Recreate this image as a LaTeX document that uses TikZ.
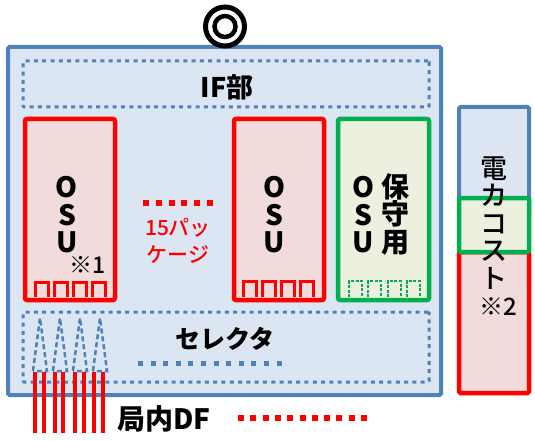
\documentclass[tikz,border=0pt]{standalone}
\usepackage{fontspec}
\setmainfont{Noto Sans CJK JP}
\newfontfamily\heavyjp{Noto Sans CJK JP Medium}
\definecolor{frameblue}{HTML}{4F81BD}
\definecolor{paleblue}{HTML}{DCE6F2}
\definecolor{palered}{HTML}{F2DCDB}
\definecolor{unitgreen}{HTML}{00B050}
\definecolor{palegreen}{HTML}{EBF1DE}
\begin{document}
\begin{tikzpicture}[x=1pt,y=-1pt,
    panel/.style={draw=frameblue, fill=paleblue, line width=4pt, rounded corners=1.5pt},
    section/.style={draw=frameblue, line width=3pt, dash pattern=on 4pt off 4.3pt, rounded corners=1pt},
    osubox/.style={draw=red, fill=palered, line width=4.5pt, rounded corners=2pt, minimum width=90pt, minimum height=181pt},
    sparebox/.style={osubox, draw=unitgreen, fill=palegreen, minimum width=91pt},
    tall/.style={align=center, font=\fontsize{28}{27.5}\selectfont\bfseries},
    label/.style={font=\fontsize{27}{30}\selectfont\bfseries},
    combline/.style={line width=3pt, line join=miter}]
\useasboundingbox (0,0) rectangle (535,441);
\node[panel, minimum width=433pt, minimum height=348pt] (shelf) at (224.5,221) {};
\node[section, minimum width=406pt, minimum height=46pt] (ifsec) at (226,84) {};
\node[label] (iflabel) at (227,87) {IF部};
\node[section, minimum width=406pt, minimum height=70pt] (selsec) at (226,347) {};
\node[label, font=\fontsize{25}{30}\selectfont\bfseries] (sellabel) at (225,339) {セレクタ};
\draw[frameblue, line width=5pt, dash pattern=on 5pt off 7.6pt] (138,363) -- (285,363);
% OSUパッケージ
\node[osubox] (osuA) at (70,209.5) {};
\node[osubox] (osuB) at (279,209.5) {};
\node[sparebox] (osuC) at (383.5,209.5) {};
\node[tall] (osuAtxt) at (67,215) {O\\S\\U};
\node[tall] (osuBtxt) at (274,215) {O\\S\\U};
\node[tall] (osuCtxt) at (363,215) {O\\S\\U};
\node[tall] (sparetxt) at (395,214) {保\\守\\用};
\node[font=\heavyjp\fontsize{23}{24}\selectfont] (noteA) at (88,265) {※1};
\foreach \i in {0,...,3} {
    \draw[combline, red] ({35+\i*19.3},297) -- ++(0,-15) -- ++(13,0) -- ++(0,15);
    \draw[combline, red] ({243+\i*19.3},297) -- ++(0,-16) -- ++(13,0) -- ++(0,16);
    \draw[combline, unitgreen, line width=2pt, dash pattern=on 3pt off 1.5pt] ({349+\i*19.3},297) -- ++(0,-16) -- ++(13,0) -- ++(0,16);
}
\draw[red, line width=6pt, dash pattern=on 6pt off 6.8pt] (143,203) -- (213,203);
\node[red, align=center, font=\heavyjp\fontsize{21}{27}\selectfont] (count) at (178,241) {15パッ\\ケージ};
% 局内DFからの入線
\foreach \x in {40,60,80,100} {
    \draw[frameblue, line width=2.5pt, dash pattern=on 5pt off 3pt] (\x-7,371) -- (\x,318) -- (\x+7,371) -- cycle;
}
\foreach \x in {35,44,55,63,75,84,94,103} {
    \draw[red, line width=3.5pt] (\x,372) -- (\x,433);
}
\node[font=\fontsize{28}{30}\selectfont\bfseries] (dflabel) at (164,419) {局内DF};
\draw[red, line width=6pt, dash pattern=on 6pt off 6.3pt] (238,418) -- (370,418);
% 電力コスト
\node[draw=frameblue, fill=paleblue, line width=4pt, rounded corners=1.5pt, minimum width=70pt, minimum height=110pt] (costtop) at (494,162) {};
\node[draw=red, fill=palered, line width=4.5pt, rounded corners=1.5pt, minimum width=70pt, minimum height=141pt] (costlow) at (494,322.5) {};
\node[draw=unitgreen, fill=palegreen, line width=4.5pt, rounded corners=1.5pt, minimum width=70pt, minimum height=54pt] (costmid) at (494,225) {};
\node[align=center, font=\heavyjp\fontsize{27}{27.5}\selectfont] (costtxt) at (494,223) {電\\カ\\コ\\ス\\ト};
\node[font=\heavyjp\fontsize{24}{24}\selectfont] (noteB) at (498,307) {※2};
% ◎
\node[draw, circle, line width=5pt, minimum size=39pt] (mark) at (225,26.5) {};
\node[draw, circle, line width=4.5pt, minimum size=21pt] (markin) at (mark) {};
\end{tikzpicture}
\end{document}
